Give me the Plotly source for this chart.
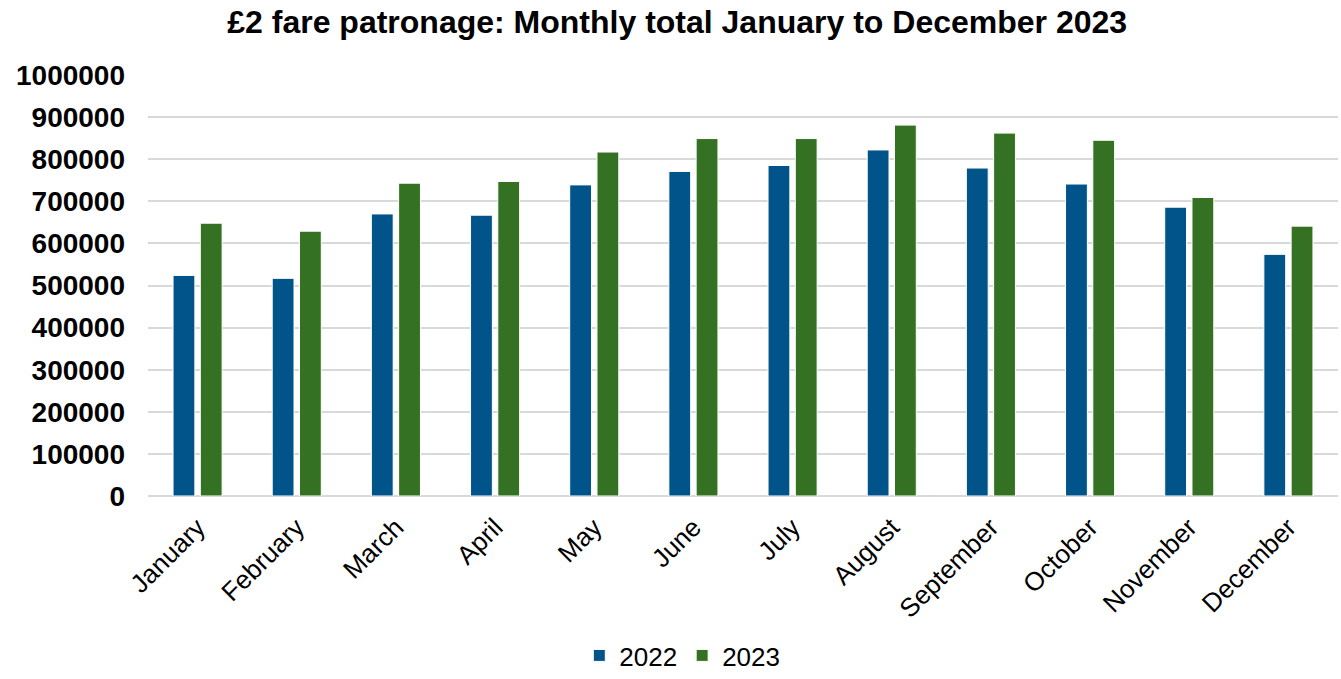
import plotly.graph_objects as go

months = ["January", "February", "March", "April", "May", "June",
          "July", "August", "September", "October", "November", "December"]
patronage_2022 = [524000, 517000, 670000, 667000, 739000, 771000,
                  785000, 822000, 779000, 741000, 686000, 574000]
patronage_2023 = [648000, 629000, 743000, 747000, 817000, 849000,
                  849000, 881000, 862000, 845000, 709000, 641000]
y_ticks = [0, 100000, 200000, 300000, 400000, 500000,
           600000, 700000, 800000, 900000, 1000000]

FONT = "Arial, Liberation Sans, sans-serif"

fig = go.Figure()
fig.add_trace(go.Bar(x=months, y=patronage_2022, name="2022",
                     marker=dict(color="#00548A", line=dict(width=1, color="#ffffff"))))
fig.add_trace(go.Bar(x=months, y=patronage_2023, name="2023",
                     marker=dict(color="#357122", line=dict(width=1, color="#ffffff"))))

fig.update_layout(
    width=1341, height=679,
    paper_bgcolor="white", plot_bgcolor="white",
    margin=dict(l=148, r=3, t=75, b=183, autoexpand=False),
    barmode="group", bargap=0.45, bargroupgap=0.2,
    title=dict(text="<b>£2 fare patronage: Monthly total January to December 2023</b>",
               x=0.505, xanchor="center", y=0.968, yanchor="middle",
               font=dict(family=FONT, size=32, color="#000000")),
    font=dict(family=FONT, color="#000000"),
    xaxis=dict(tickangle=-45, tickfont=dict(size=26, color="#000000"),
               showgrid=False, showline=False, ticks="", ticklabelstandoff=10,
               automargin=False),
    yaxis=dict(range=[0, 1000000], tickvals=y_ticks,
               ticktext=[f"<b>{v}</b>" for v in y_ticks],
               tickfont=dict(size=28, color="#000000"),
               showgrid=True, gridcolor="#d9d9d9", gridwidth=2,
               zeroline=True, zerolinecolor="#d9d9d9", zerolinewidth=2,
               ticks="", ticklen=0, ticklabelstandoff=22, automargin=False),
    legend=dict(orientation="h", x=0.449, xanchor="center",
                yref="container", y=0.0, yanchor="bottom",
                font=dict(size=26, color="#000000"),
                traceorder="normal"),
    showlegend=True,
)

fig.write_html("out.html")
